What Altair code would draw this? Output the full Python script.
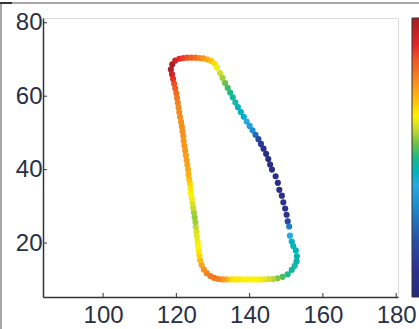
import altair as alt
import pandas as pd

# Loop points (clockwise from top-left corner), x, y and colour value
xs = [118.5, 118.9, 119.7, 120.8, 121.9, 123.0, 124.1, 125.2, 126.3, 127.4, 128.5, 129.5, 130.4, 131.1,
      131.9, 132.6, 133.3, 134.0, 134.7, 135.4, 136.1, 136.8, 137.6, 138.4, 139.2, 140.0, 140.8, 141.6,
      142.4, 143.1, 143.8, 144.5, 145.1, 145.6, 146.1,
      147.1, 147.7, 148.1, 148.8, 149.2, 149.7, 150.1, 150.4, 150.8, 151.0, 151.5, 151.9, 152.6, 152.9,
      152.8, 152.3, 151.5, 150.4, 149.0, 147.6,
      146.4, 145.2, 144.0, 142.8, 141.6, 140.4, 139.2, 138.0, 136.9, 135.8, 134.8, 133.7, 132.6, 131.5,
      130.4, 129.3, 128.3, 127.5,
      126.9, 126.5, 126.3, 126.1, 125.9, 125.8, 125.6, 125.5, 125.3, 125.2, 125.0, 124.8, 124.6, 124.4,
      124.2, 124.0, 123.9, 123.7, 123.5, 123.3, 123.2, 123.0, 122.8, 122.6, 122.4, 122.2, 122.0, 121.9,
      121.7, 121.5, 121.3, 121.0, 120.8, 120.6, 120.4, 120.2, 120.0, 119.7, 119.4, 119.1, 118.8]
ys = [67.3, 68.7, 69.7, 70.2, 70.4, 70.5, 70.5, 70.5, 70.4, 70.3, 70.0, 69.6, 68.9, 67.8,
      66.3, 65.0, 63.6, 62.3, 61.0, 59.7, 58.3, 57.0, 55.7, 54.4, 53.1, 51.9, 50.7, 49.5,
      48.3, 47.0, 45.7, 44.3, 42.9, 41.4, 40.0,
      38.2, 36.4, 34.5, 32.9, 31.1, 29.4, 27.7, 25.9, 24.5, 22.0, 20.4, 19.2, 18.0, 16.4,
      15.0, 13.8, 12.7, 11.5, 10.8, 10.4,
      10.2, 10.2, 10.1, 10.1, 10.1, 10.1, 10.1, 10.1, 10.1, 10.1, 10.1, 10.1, 10.1, 10.2,
      10.5, 11.0, 11.8, 12.8,
      14.0, 15.3, 16.6, 17.9, 19.2, 20.5, 21.8, 23.1, 24.4, 25.7, 27.0, 28.3, 29.6, 30.9,
      32.2, 33.5, 34.8, 36.1, 37.4, 38.7, 40.0, 41.3, 42.6, 43.9, 45.2, 46.5, 47.8, 49.1,
      50.4, 51.7, 53.0, 54.3, 55.6, 56.9, 58.2, 59.5, 60.8, 62.1, 63.4, 64.7, 66.0]
cs = [0.98, 1.0, 0.94, 0.9, 0.88, 0.86, 0.84, 0.82, 0.79, 0.76, 0.73, 0.7, 0.67, 0.64,
      0.61, 0.58, 0.55, 0.52, 0.5, 0.48, 0.47, 0.45, 0.44, 0.42, 0.4, 0.37, 0.33, 0.26,
      0.18, 0.12, 0.08, 0.05, 0.04, 0.04, 0.04,
      0.05, 0.05, 0.06, 0.06, 0.07, 0.08, 0.1, 0.16, 0.3, 0.4, 0.44, 0.45, 0.45, 0.46,
      0.46, 0.47, 0.48, 0.5, 0.53, 0.56,
      0.59, 0.61, 0.63, 0.64, 0.65, 0.65, 0.65, 0.65, 0.66, 0.66, 0.67, 0.72, 0.76, 0.79,
      0.8, 0.8, 0.79, 0.77,
      0.74, 0.71, 0.68, 0.66, 0.65, 0.64, 0.63, 0.62, 0.6, 0.58, 0.57, 0.58, 0.6, 0.62,
      0.64, 0.65, 0.66, 0.68, 0.7, 0.72, 0.73, 0.74, 0.75, 0.75, 0.76, 0.76, 0.76, 0.76,
      0.77, 0.77, 0.77, 0.77, 0.78, 0.78, 0.79, 0.8, 0.82, 0.84, 0.86, 0.89, 0.93]

x_ticks = [100, 120, 140, 160, 180]
y_ticks = [20, 40, 60, 80]

cmap_pos = [0, 0.1, 0.22, 0.33, 0.4, 0.47, 0.54, 0.6, 0.65, 0.72, 0.8, 0.9, 1.0]
cmap_col = ["#262a7a", "#2e3192", "#2a56a8", "#1f8fd0", "#27aae1", "#1fb5a6", "#5cbb4a",
            "#c6d92f", "#fff200", "#fbb117", "#f47a20", "#e8262a", "#a31d22"]

df = pd.DataFrame({"x": xs, "y": ys, "c": cs})

W, H = 355, 279
xscale = alt.Scale(domain=[83.6, 180.5], nice=False, zero=False)
yscale = alt.Scale(domain=[5.3, 81.3], nice=False, zero=False)

font = "Liberation Sans"
lab_color = "#2a2f45"
xaxis = alt.Axis(values=x_ticks, tickSize=0, labelFontSize=24, labelFont=font, labelColor=lab_color,
                 domainColor="#333333", domainWidth=1.5, grid=False, title=None, labelPadding=6,
                 labelFlush=False)
yaxis = alt.Axis(values=y_ticks, tickSize=0, labelFontSize=24, labelFont=font, labelColor=lab_color,
                 domainColor="#333333", domainWidth=1.5, grid=False, title=None, labelPadding=1,
                 labelFlush=False)

points = alt.Chart(df).mark_circle(size=38, opacity=1).encode(
    x=alt.X("x:Q", scale=xscale, axis=xaxis),
    y=alt.Y("y:Q", scale=yscale, axis=yaxis),
    color=alt.Color("c:Q", scale=alt.Scale(domain=cmap_pos, range=cmap_col),
                    legend=alt.Legend(orient="none", legendX=369, legendY=0, title=None,
                                      direction="vertical", gradientLength=H, gradientThickness=14,
                                      gradientStrokeColor="#333333", gradientStrokeWidth=1,
                                      labelExpr="''", labelOpacity=0, padding=0)),
)

xt = alt.Chart(pd.DataFrame({"x": x_ticks})).mark_rule(color="#333333", strokeWidth=1).encode(
    x=alt.X("x:Q", scale=xscale, axis=xaxis),
    y=alt.value(H), y2=alt.value(H - 4),
)
yt = alt.Chart(pd.DataFrame({"y": y_ticks})).mark_rule(color="#333333", strokeWidth=1).encode(
    y=alt.Y("y:Q", scale=yscale, axis=yaxis),
    x=alt.value(0), x2=alt.value(4),
)

one = pd.DataFrame({"a": [0]})
frame_top = alt.Chart(one).mark_rule(color="#a8a8a8", strokeWidth=2).encode(
    x=alt.value(-43), x2=alt.value(376), y=alt.value(-15))
frame_left = alt.Chart(one).mark_rule(color="#a8a8a8", strokeWidth=2).encode(
    x=alt.value(-42), y=alt.value(-15), y2=alt.value(311))
frame_dark = alt.Chart(one).mark_rule(color="#333333", strokeWidth=2).encode(
    x=alt.value(-43), x2=alt.value(-31), y=alt.value(-15))

chart = alt.layer(frame_top, frame_left, frame_dark, xt, yt, points).properties(
    width=W, height=H,
    autosize=alt.AutoSizeParams(type="none"),
    padding={"left": 43, "top": 18, "right": 21, "bottom": 32},
).configure_view(stroke=None).configure(background="white")

chart.save("out.html", embed_options={"renderer": "svg", "actions": False})
